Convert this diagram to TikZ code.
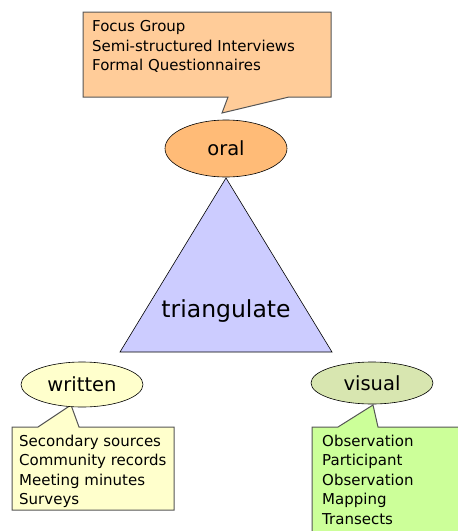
\documentclass[tikz,border=0pt]{standalone}
\usepackage{fontspec}
\setmainfont{DejaVu Sans}
\usetikzlibrary{shapes.geometric}
\definecolor{calloutorange}{HTML}{FFCC99}
\definecolor{oralfill}{HTML}{FFBB77}
\definecolor{trifill}{HTML}{CCCCFF}
\definecolor{writtenfill}{HTML}{FFFFCC}
\definecolor{visualfill}{HTML}{D8E6B0}
\definecolor{calloutgreen}{HTML}{CCFF99}
\definecolor{edgegray}{HTML}{555555}
\tikzset{
  bubble/.style={draw=edgegray, line width=1pt, line join=miter},
  listtext/.style={anchor=north west, align=left, inner sep=0pt, font=\fontsize{15}{19.5}\selectfont},
  oval/.style={ellipse, draw=black, line width=0.6pt, minimum width=122pt, inner sep=0pt},
  ovaltext/.style={font=\fontsize{19.5}{22}\selectfont}
}
\begin{document}
\begin{tikzpicture}[x=1pt,y=-1pt]
\useasboundingbox (0,0) rectangle (458,531);
\clip (0,0) rectangle (458,531);
% top callout
\draw[bubble, fill=calloutorange] (83,12) -- (331,12) -- (331,97) -- (289,97) -- (222,113) -- (228,97) -- (83,97) -- cycle;
\node[listtext] (oraltext) at (92,20.6) {Focus Group\\Semi-structured Interviews\\Formal Questionnaires};
% triangle
\coordinate (apex) at (226,178);
\coordinate (bl) at (120,352);
\coordinate (br) at (332,352);
\draw[fill=trifill, line width=0.6pt] (apex) -- (br) -- (bl) -- cycle;
\node[anchor=base, inner sep=0pt, font=\fontsize{23.5}{26}\selectfont] (tri) at (226,317) {triangulate};
% oral
\node[oval, fill=oralfill, minimum height=57pt, ovaltext] (oral) at (226,148.5) {oral};
% written callout
\draw[bubble, fill=writtenfill] (12,427) -- (38,427) -- (71,405) -- (79,427) -- (174,427) -- (174,510) -- (12,510) -- cycle;
\node[listtext] (writtentext) at (19,434.6) {Secondary sources\\Community records\\Meeting minutes\\Surveys};
% visual callout
\draw[bubble, fill=calloutgreen] (312,427) -- (338,427) -- (373,405) -- (378,427) -- (470,427) -- (470,545) -- (312,545) -- cycle;
\node[listtext] (visualtext) at (322,434.6) {Observation\\Participant\\Observation\\Mapping\\Transects};
% written and visual ovals
\node[oval, fill=writtenfill, minimum height=45pt, ovaltext] (written) at (82,384.5) {written};
\node[oval, fill=visualfill, minimum height=42pt, ovaltext] (visual) at (372,383) {visual};
\end{tikzpicture}
\end{document}
